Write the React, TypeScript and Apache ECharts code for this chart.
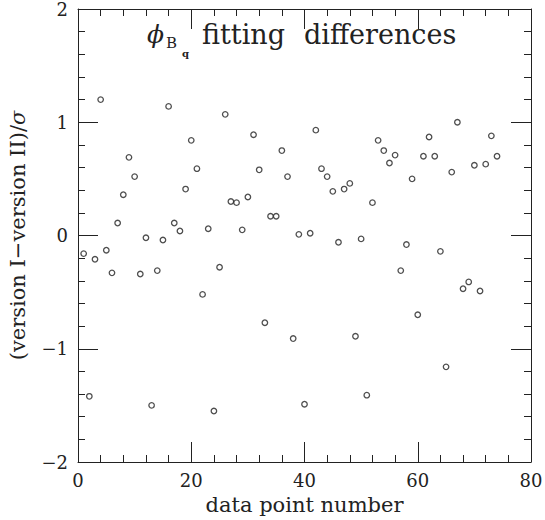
import React, { useEffect, useRef } from "react";
import * as echarts from "echarts";

// data point numbers 1..74 and their values
const diffValues = [
  -0.16, -1.42, -0.21, 1.20, -0.13, -0.33, 0.11, 0.36, 0.69, 0.52,
  -0.34, -0.02, -1.50, -0.31, -0.04, 1.14, 0.11, 0.04, 0.41, 0.84,
  0.59, -0.52, 0.06, -1.55, -0.28, 1.07, 0.30, 0.29, 0.05, 0.34,
  0.89, 0.58, -0.77, 0.17, 0.17, 0.75, 0.52, -0.91, 0.01, -1.49,
  0.02, 0.93, 0.59, 0.52, 0.39, -0.06, 0.41, 0.46, -0.89, -0.03,
  -1.41, 0.29, 0.84, 0.75, 0.64, 0.71, -0.31, -0.08, 0.50, -0.70,
  0.70, 0.87, 0.70, -0.14, -1.16, 0.56, 1.00, -0.47, -0.41, 0.62,
  -0.49, 0.63, 0.88, 0.70,
];
const xTickLabels = [0, 20, 40, 60, 80];
const yTickLabels = [-2, -1, 0, 1, 2];

const xName = "data point number";
const yName = "(version I\u2212version II)/{i|\u03c3}";

const FONT = "'DejaVu Serif', serif";
const INK = "#222";

export default function App() {
  const ref = useRef<HTMLDivElement>(null);

  useEffect(() => {
    document.body.style.margin = "0";
    if (!ref.current) return;
    const chart = echarts.init(ref.current, null, { renderer: "svg" });

    const points = diffValues.map((v, i) => [i + 1, v]);
    const xMin = xTickLabels[0];
    const xMax = xTickLabels[xTickLabels.length - 1];
    const xInt = xTickLabels[1] - xTickLabels[0];
    const yMin = yTickLabels[0];
    const yMax = yTickLabels[yTickLabels.length - 1];
    const yInt = yTickLabels[1] - yTickLabels[0];

    const tickCommon = {
      axisLine: { show: true, onZero: false, lineStyle: { color: INK, width: 1 } },
      axisTick: { show: true, inside: true, length: 20, lineStyle: { color: INK, width: 1 } },
      minorTick: { show: true, splitNumber: 5, length: 7, lineStyle: { color: INK, width: 1 } },
      splitLine: { show: false },
      minorSplitLine: { show: false },
    };

    const fmt = (v: number) => String(v).replace("-", "\u2212");

    chart.setOption({
      animation: false,
      backgroundColor: "#fff",
      grid: {
        left: 78,
        right: 14,
        top: 9,
        bottom: 58,
        containLabel: false,
        outerBoundsMode: "none",
      },
      xAxis: [
        {
          type: "value",
          min: xMin,
          max: xMax,
          interval: xInt,
          position: "bottom",
          ...tickCommon,
          axisLabel: {
            show: true,
            margin: 9,
            color: INK,
            fontFamily: FONT,
            fontSize: 18,
            formatter: fmt,
          },
          name: xName,
          nameLocation: "middle",
          nameGap: 32,
          nameTextStyle: { color: INK, fontFamily: FONT, fontSize: 21 },
        },
        {
          type: "value",
          min: xMin,
          max: xMax,
          interval: xInt,
          position: "top",
          ...tickCommon,
          axisLabel: { show: false },
        },
      ],
      yAxis: [
        {
          type: "value",
          min: yMin,
          max: yMax,
          interval: yInt,
          position: "left",
          ...tickCommon,
          axisLabel: {
            show: true,
            margin: 10,
            color: INK,
            fontFamily: FONT,
            fontSize: 18,
            formatter: fmt,
          },
          name: yName,
          nameLocation: "middle",
          nameRotate: 90,
          nameGap: 50,
          nameTextStyle: {
            color: INK,
            fontFamily: FONT,
            fontSize: 21,
            rich: {
              i: { fontFamily: FONT, fontSize: 21, fontStyle: "italic", color: INK },
            },
          },
        },
        {
          type: "value",
          min: yMin,
          max: yMax,
          interval: yInt,
          position: "right",
          ...tickCommon,
          axisLabel: { show: false },
        },
      ],
      series: [
        {
          type: "scatter",
          xAxisIndex: 0,
          yAxisIndex: 0,
          data: points,
          symbol: "circle",
          symbolSize: 5.5,
          itemStyle: { color: "#fff", borderColor: INK, borderWidth: 1.3 },
          emphasis: { disabled: true },
        },
      ],
      graphic: [
        {
          type: "text",
          x: 147,
          y: 34,
          style: {
            text: "\u03d5",
            font: `italic 25px ${FONT}`,
            fill: INK,
            textAlign: "left",
            textVerticalAlign: "middle",
          },
        },
        {
          type: "text",
          x: 166,
          y: 43,
          style: {
            text: "B",
            font: `15px ${FONT}`,
            fill: INK,
            textAlign: "left",
            textVerticalAlign: "middle",
          },
        },
        {
          type: "text",
          x: 182,
          y: 53,
          style: {
            text: "q",
            font: `bold 10px ${FONT}`,
            fill: INK,
            textAlign: "left",
            textVerticalAlign: "middle",
          },
        },
        {
          type: "text",
          x: 202,
          y: 34,
          style: {
            text: "fitting",
            font: `27px ${FONT}`,
            fill: INK,
            textAlign: "left",
            textVerticalAlign: "middle",
          },
        },
        {
          type: "text",
          x: 304,
          y: 34,
          style: {
            text: "differences",
            font: `27px ${FONT}`,
            fill: INK,
            textAlign: "left",
            textVerticalAlign: "middle",
          },
        },
      ],
    });

    return () => chart.dispose();
  }, []);

  return <div ref={ref} style={{ width: 545, height: 520 }} />;
}
